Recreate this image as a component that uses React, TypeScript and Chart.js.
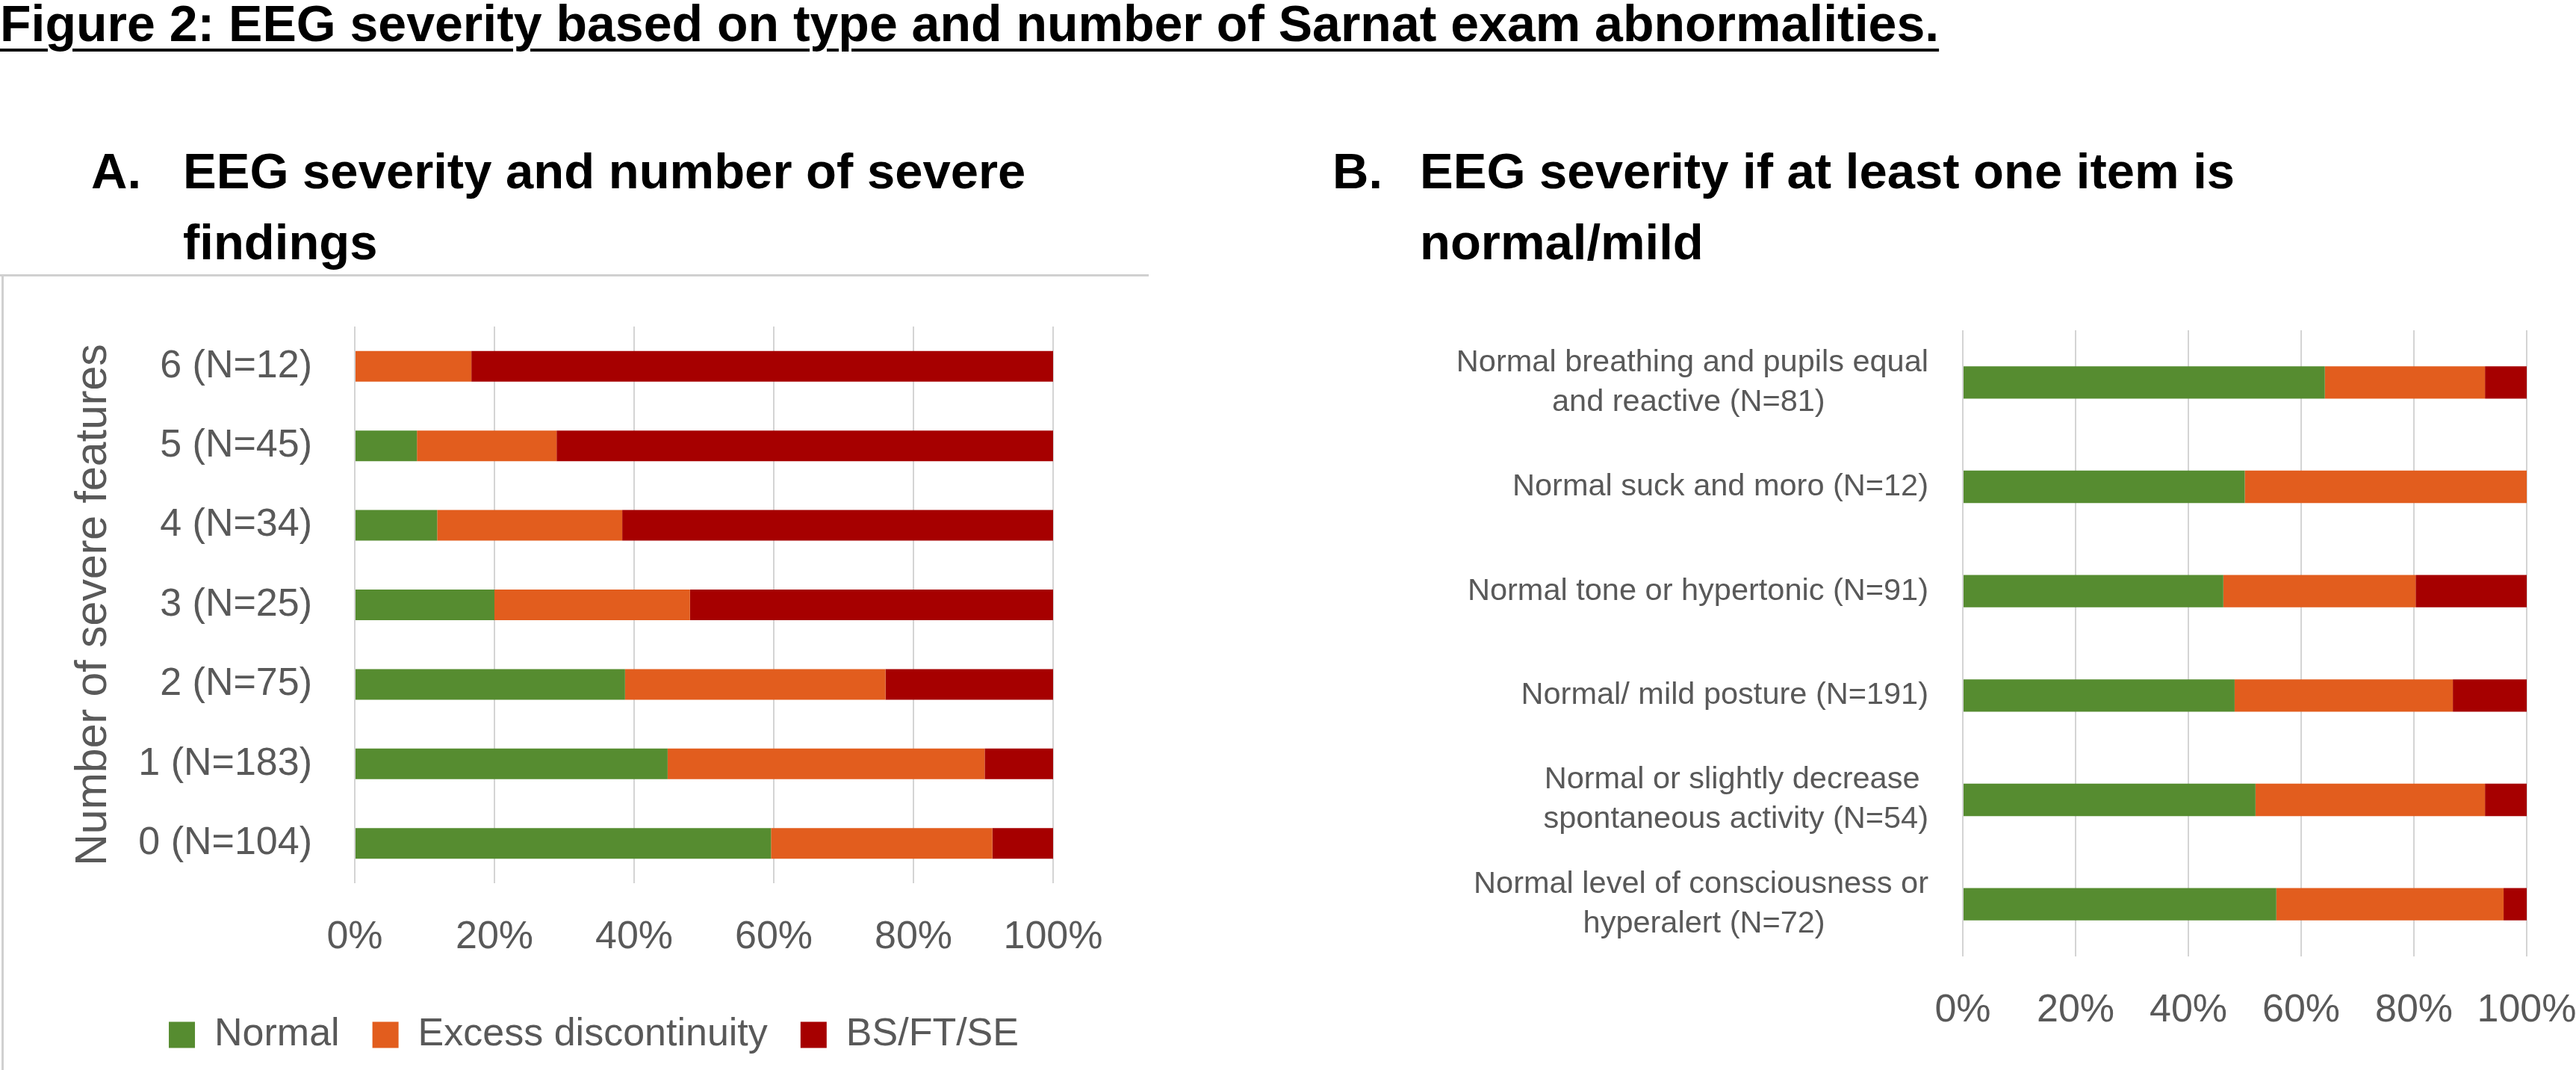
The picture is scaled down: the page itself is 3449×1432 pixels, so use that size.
import React, { useEffect, useRef } from "react";
import { Chart, registerables } from "chart.js";

Chart.register(...registerables);

const FONT = "'Liberation Sans', Arial, sans-serif";
Chart.defaults.font.family = FONT;

const TEXT_GRAY = "#595959";
const GRID_GRAY = "#d4d4d4";
const GREEN = "#568C30";
const ORANGE = "#E25D1E";
const RED = "#A60000";

const seriesNames = ["Normal", "Excess discontinuity", "BS/FT/SE"];
const xTickStep = 20;

// Panel A: EEG severity and number of severe findings (percent of each row)
const severeCategories = ["6 (N=12)", "5 (N=45)", "4 (N=34)", "3 (N=25)", "2 (N=75)", "1 (N=183)", "0 (N=104)"];
const severeNormal = [0, 8.9, 11.8, 20.0, 38.7, 44.8, 59.6];
const severeExcess = [16.7, 20.0, 26.5, 28.0, 37.3, 45.4, 31.7];
const severeBsFtSe = [83.3, 71.1, 61.7, 52.0, 24.0, 9.8, 8.7];

// Panel B: EEG severity if at least one item is normal/mild
const itemCategories: (string | string[])[] = [
  ["Normal breathing and pupils equal", "and reactive (N=81)"],
  "Normal suck and moro (N=12)",
  "Normal tone or hypertonic (N=91)",
  "Normal/ mild posture (N=191)",
  ["Normal or slightly decrease", "spontaneous activity (N=54)"],
  ["Normal level of consciousness or", "hyperalert (N=72)"],
];
const itemNormal = [64.2, 50.0, 46.2, 48.2, 51.9, 55.6];
const itemExcess = [28.4, 50.0, 34.1, 38.7, 40.7, 40.3];
const itemBsFtSe = [7.4, 0, 19.7, 13.1, 7.4, 4.1];

const colors = [GREEN, ORANGE, RED];

const B_LABEL_SIZE = 41.5;

function makeDatasets(series: number[][], barPercentage: number) {
  return series.map((data, i) => ({
    label: seriesNames[i],
    data,
    backgroundColor: colors[i],
    borderWidth: 0,
    barPercentage,
    categoryPercentage: 1,
  }));
}

function pctTick(v: any) {
  return v + "%";
}

// Wrapped category labels: centre the lines of one label inside its block
// (the block itself stays right-aligned against the axis), like the source.
let measureCtx: CanvasRenderingContext2D | null = null;
function centerLines(label: any, fontSize: number) {
  if (!Array.isArray(label)) return label;
  if (!measureCtx) measureCtx = document.createElement("canvas").getContext("2d");
  if (!measureCtx) return label;
  measureCtx.font = `${fontSize}px ${FONT}`;
  const widths = label.map((l: string) => measureCtx!.measureText(l).width);
  const maxW = Math.max(...widths);
  const spaceW = measureCtx.measureText(" ").width || 1;
  return label.map((l: string, i: number) => l + " ".repeat(Math.round((maxW - widths[i]) / 2 / spaceW)));
}

function fixSize(size: { width?: number; height?: number }) {
  return (scale: any) => {
    if (size.width !== undefined) scale.width = size.width;
    if (size.height !== undefined) scale.height = size.height;
    scale.paddingTop = 0;
    scale.paddingBottom = 0;
    scale.paddingLeft = 0;
    scale.paddingRight = 0;
  };
}

function xAxis(height: number) {
  return {
    stacked: true,
    min: 0,
    max: 100,
    ticks: {
      stepSize: xTickStep,
      callback: pctTick,
      padding: 41,
      color: TEXT_GRAY,
      font: { family: FONT, size: 52 },
      maxRotation: 0,
    },
    grid: { color: GRID_GRAY, lineWidth: 2, drawTicks: false },
    border: { display: false },
    afterFit: fixSize({ height }),
  };
}

function configA(): any {
  return {
    type: "bar",
    data: {
      labels: severeCategories,
      datasets: makeDatasets([severeNormal, severeExcess, severeBsFtSe], 0.385),
    },
    options: {
      indexAxis: "y",
      responsive: false,
      animation: false,
      layout: { padding: { left: 180, right: 130, top: 69, bottom: 11 } },
      plugins: {
        legend: {
          display: true,
          position: "bottom",
          labels: {
            boxWidth: 35,
            boxHeight: 35,
            padding: 44,
            color: TEXT_GRAY,
            font: { family: FONT, size: 52 },
          },
        },
        tooltip: { enabled: false },
      },
      scales: {
        x: xAxis(133),
        y: {
          stacked: true,
          grid: { display: false, drawTicks: false },
          border: { display: false },
          ticks: {
            padding: 57,
            color: TEXT_GRAY,
            autoSkip: false,
            font: { family: FONT, size: 52 },
          },
          title: {
            display: true,
            text: "Number of severe features",
            color: TEXT_GRAY,
            font: { family: FONT, size: 59 },
            padding: { top: -90, bottom: 0 },
          },
          afterFit: fixSize({ width: 295 }),
        },
      },
    },
  };
}

function configB(): any {
  return {
    type: "bar",
    data: {
      labels: itemCategories,
      datasets: makeDatasets([itemNormal, itemExcess, itemBsFtSe], 0.31),
    },
    options: {
      indexAxis: "y",
      responsive: false,
      animation: false,
      layout: { padding: { left: 0, right: 66, top: 74, bottom: 49 } },
      plugins: {
        legend: { display: false },
        tooltip: { enabled: false },
      },
      scales: {
        x: xAxis(103),
        y: {
          stacked: true,
          grid: { display: false, drawTicks: false },
          border: { display: false },
          ticks: {
            padding: 46,
            color: TEXT_GRAY,
            autoSkip: false,
            font: { family: FONT, size: B_LABEL_SIZE, lineHeight: 1.28 },
            callback: function (this: any, value: any) {
              return centerLines(this.getLabelForValue(value), B_LABEL_SIZE);
            },
          },
          afterFit: fixSize({ width: 928 }),
        },
      },
    },
  };
}

function ChartCanvas(props: { left: number; top: number; width: number; height: number; make: () => any }) {
  const ref = useRef<HTMLCanvasElement | null>(null);
  useEffect(() => {
    if (!ref.current) return;
    const chart = new Chart(ref.current, props.make());
    return () => chart.destroy();
  }, []);
  return (
    <canvas
      ref={ref}
      width={props.width}
      height={props.height}
      style={{ position: "absolute", left: props.left, top: props.top, width: props.width, height: props.height }}
    />
  );
}

const boldText: React.CSSProperties = {
  position: "absolute",
  fontFamily: FONT,
  fontWeight: 700,
  color: "#000",
  whiteSpace: "nowrap",
};

export default function App() {
  return (
    <div
      style={{
        position: "absolute",
        left: 0,
        top: 0,
        width: 3449,
        height: 1432,
        background: "#fff",
        overflow: "hidden",
      }}
    >
      <div
        style={{
          ...boldText,
          left: 0,
          top: -3,
          fontSize: 68,
          lineHeight: "68px",
          textDecoration: "underline",
          textDecorationThickness: "4px",
          textUnderlineOffset: "10px",
        }}
      >
        Figure 2: EEG severity based on type and number of Sarnat exam abnormalities.
      </div>

      <div style={{ ...boldText, left: 122, top: 195, fontSize: 67, lineHeight: "67px" }}>A.</div>
      <div style={{ ...boldText, left: 245, top: 195, fontSize: 67, lineHeight: "67px" }}>
        EEG severity and number of severe
      </div>
      <div style={{ ...boldText, left: 245, top: 290, fontSize: 67, lineHeight: "67px" }}>findings</div>

      <div style={{ ...boldText, left: 1784, top: 195, fontSize: 67, lineHeight: "67px" }}>B.</div>
      <div style={{ ...boldText, left: 1901, top: 195, fontSize: 67, lineHeight: "67px" }}>
        EEG severity if at least one item is
      </div>
      <div style={{ ...boldText, left: 1901, top: 290, fontSize: 67, lineHeight: "67px" }}>normal/mild</div>

      <div style={{ position: "absolute", left: 0, top: 367, width: 1538, height: 3, background: "#d0d0d0" }} />
      <div style={{ position: "absolute", left: 2, top: 367, width: 3, height: 1065, background: "#d0d0d0" }} />

      <ChartCanvas left={0} top={368} width={1540} height={1064} make={configA} />
      <ChartCanvas left={1700} top={368} width={1749} height={1064} make={configB} />
    </div>
  );
}
